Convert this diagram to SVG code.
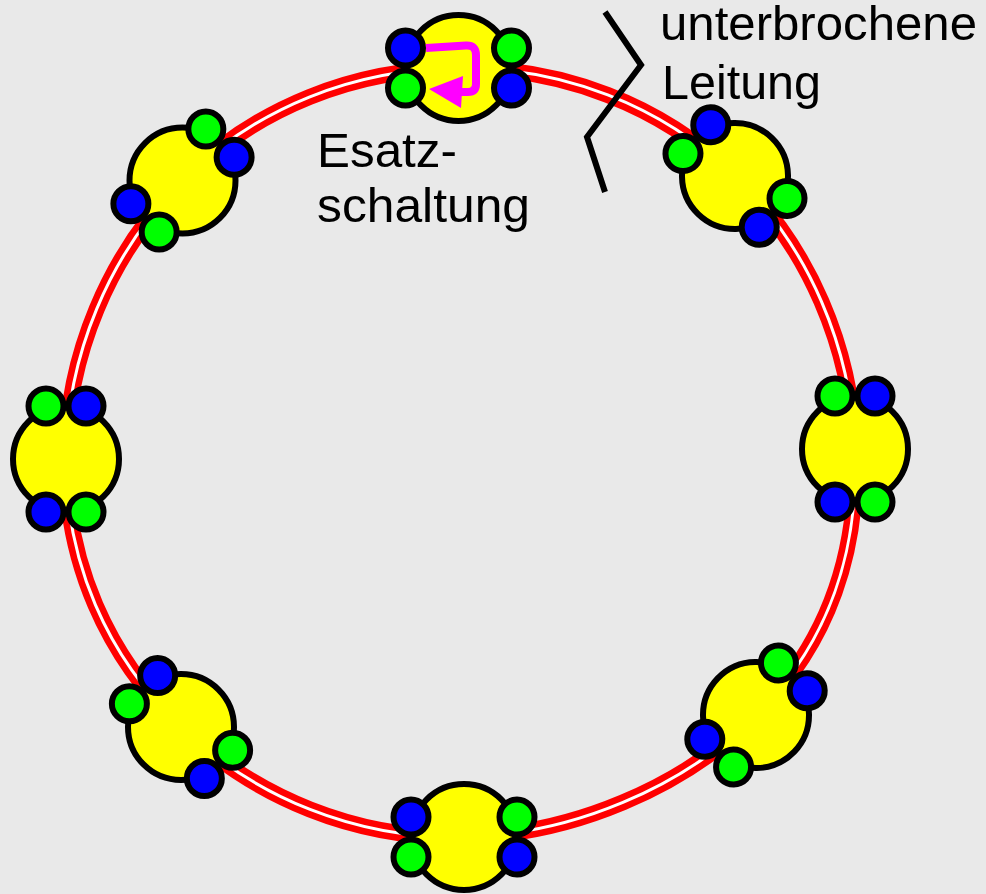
<svg xmlns="http://www.w3.org/2000/svg" width="986" height="894" viewBox="0 0 986 894">
  <defs>
    <style>
      .ring-outer { fill: none; stroke: #FF0000; stroke-width: 16; }
      .ring-inner { fill: none; stroke: #FFFFFF; stroke-width: 3; }
      .body { fill: #FFFF00; stroke: #000000; stroke-width: 6; }
      .port-b { fill: #0000FF; stroke: #000000; stroke-width: 6; }
      .port-g { fill: #00FF00; stroke: #000000; stroke-width: 6; }
      .label { font-family: "Liberation Sans", Arial, sans-serif; font-size: 49px; fill: #000000; }
      .break { fill: none; stroke: #000000; stroke-width: 6; stroke-linejoin: miter; }
      .bypass { fill: none; stroke: #FF00FF; stroke-width: 8; stroke-linecap: butt; stroke-linejoin: round; }
    </style>
    <path id="ring-path" d="M458.5,68 C562.1,67.2 660.7,104.6 735,176 C809.3,247.4 851.1,347.9 855,449 C858.9,550.1 829.3,642.3 756,715 C682.7,787.8 571.8,834.8 464,837 C356.2,839.3 255.6,797.9 181,727 C106.4,656.1 65.7,561.5 66,459 C66.3,356.5 108.9,253.8 182.5,180.5 C256.1,107.2 354.9,68.8 458.5,68 Z"/>
  </defs>

  <rect width="986" height="894" fill="#E9E9E9"/>

  <!-- ring line (double red conductor) -->
  <g id="connectors">
    <use href="#ring-path" class="ring-outer"/>
    <use href="#ring-path" class="ring-inner"/>
  </g>

  <!-- stations: local x = clockwise along ring, local -y = outward -->
  <g id="node-top" transform="translate(458.5,68)">
    <circle class="body" r="53"/>
    <circle class="port-b" cx="-53" cy="-20" r="17.5"/>
    <circle class="port-g" cx="-53" cy="20" r="17.5"/>
    <circle class="port-g" cx="53" cy="-20" r="17.5"/>
    <circle class="port-b" cx="53" cy="20" r="17.5"/>
    <!-- internal loop-back -->
    <g transform="translate(-458.5,-68)">
      <path class="bypass" d="M426,48 L466,45.5 Q476,45 476,55 L476,84 Q476,92 468,92 L456,92"/>
      <polygon fill="#FF00FF" points="429,89 463,76 461,108"/>
    </g>
  </g>

  <g id="node-top-right" transform="translate(735,176) rotate(44)">
    <circle class="body" r="53"/>
    <circle class="port-b" cx="-53" cy="-20" r="17.5"/>
    <circle class="port-g" cx="-53" cy="20" r="17.5"/>
    <circle class="port-g" cx="53" cy="-20" r="17.5"/>
    <circle class="port-b" cx="53" cy="20" r="17.5"/>
  </g>

  <g id="node-right" transform="translate(855,449) rotate(90)">
    <circle class="body" r="53"/>
    <circle class="port-b" cx="-53" cy="-20" r="17.5"/>
    <circle class="port-g" cx="-53" cy="20" r="17.5"/>
    <circle class="port-g" cx="53" cy="-20" r="17.5"/>
    <circle class="port-b" cx="53" cy="20" r="17.5"/>
  </g>

  <g id="node-bottom-right" transform="translate(756,715) rotate(134)">
    <circle class="body" r="53"/>
    <circle class="port-b" cx="-53" cy="-20" r="17.5"/>
    <circle class="port-g" cx="-53" cy="20" r="17.5"/>
    <circle class="port-g" cx="53" cy="-20" r="17.5"/>
    <circle class="port-b" cx="53" cy="20" r="17.5"/>
  </g>

  <g id="node-bottom" transform="translate(464,837) rotate(180)">
    <circle class="body" r="53"/>
    <circle class="port-b" cx="-53" cy="-20" r="17.5"/>
    <circle class="port-g" cx="-53" cy="20" r="17.5"/>
    <circle class="port-g" cx="53" cy="-20" r="17.5"/>
    <circle class="port-b" cx="53" cy="20" r="17.5"/>
  </g>

  <g id="node-bottom-left" transform="translate(181,727) rotate(225)">
    <circle class="body" r="53"/>
    <circle class="port-b" cx="-53" cy="-20" r="17.5"/>
    <circle class="port-g" cx="-53" cy="20" r="17.5"/>
    <circle class="port-g" cx="53" cy="-20" r="17.5"/>
    <circle class="port-b" cx="53" cy="20" r="17.5"/>
  </g>

  <g id="node-left" transform="translate(66,459) rotate(270)">
    <circle class="body" r="53"/>
    <circle class="port-b" cx="-53" cy="-20" r="17.5"/>
    <circle class="port-g" cx="-53" cy="20" r="17.5"/>
    <circle class="port-g" cx="53" cy="-20" r="17.5"/>
    <circle class="port-b" cx="53" cy="20" r="17.5"/>
  </g>

  <g id="node-top-left" transform="translate(182.5,180.5) rotate(-45)">
    <circle class="body" r="53"/>
    <circle class="port-b" cx="-53" cy="-20" r="17.5"/>
    <circle class="port-g" cx="-53" cy="20" r="17.5"/>
    <circle class="port-g" cx="53" cy="-20" r="17.5"/>
    <circle class="port-b" cx="53" cy="20" r="17.5"/>
  </g>

  <!-- cable break marker -->
  <polyline id="break-mark" class="break" points="605,12 641,65 587,137 605,192"/>

  <!-- labels -->
  <g id="label-break">
    <text class="label" x="660" y="40" textLength="317" lengthAdjust="spacingAndGlyphs">unterbrochene</text>
    <text class="label" x="662" y="99" textLength="159" lengthAdjust="spacingAndGlyphs">Leitung</text>
  </g>
  <g id="label-bypass">
    <text class="label" x="317" y="167" textLength="140" lengthAdjust="spacingAndGlyphs">Esatz-</text>
    <text class="label" x="317" y="222" textLength="213" lengthAdjust="spacingAndGlyphs">schaltung</text>
  </g>
</svg>
